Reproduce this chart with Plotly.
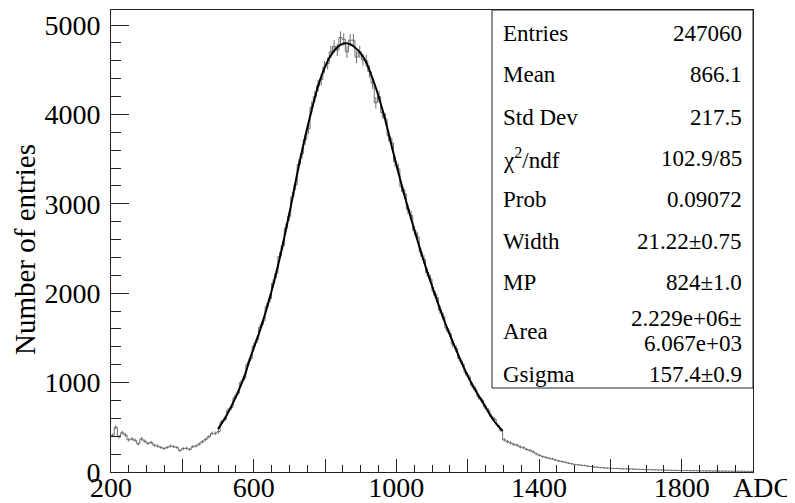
import numpy as np
import plotly.graph_objects as go

# ---------------- data ----------------
bin_low = 200.0
bin_width = 9.0

counts_low = [410, 500, 395, 440, 414, 360, 370, 355, 315, 370,
              345, 320, 330, 300, 290, 275, 262, 275, 290, 283,
              275, 240, 262, 265, 253, 283, 291, 313, 339, 365,
              395, 432, 432, 451]
counts_peak = [560, 590, 690, 720, 830, 880, 1000, 1050, 1200, 1270,
               1410, 1480, 1620, 1690, 1850, 1940, 2110, 2220, 2410, 2530,
               2730, 2860, 3080, 3210, 3440, 3560, 3720, 3840, 4080, 4200,
               4320, 4390, 4530, 4570, 4700, 4760, 4720, 4860, 4840, 4700,
               4830, 4830, 4640, 4700, 4610, 4600, 4480, 4350, 4130, 4200,
               4020, 3950, 3760, 3680, 3470, 3390, 3190, 3110, 2940, 2870,
               2700, 2630, 2460, 2380, 2230, 2160, 2020, 1950, 1810, 1740,
               1610, 1550, 1430, 1380, 1270, 1210, 1110, 1060, 970, 925,
               840, 805, 730, 690, 620, 590, 520, 470, 360]
counts_tail = [340, 325, 308, 300, 280, 272, 252, 242, 226, 203,
               186, 172, 163, 153, 146, 133, 124, 117, 109, 99,
               92, 84, 82, 75, 73, 66, 61, 57, 53, 49,
               47, 44, 43, 40, 40, 37, 36, 35, 33, 34,
               31, 30, 29, 27, 27, 25, 25, 22, 23, 21,
               20, 19, 19, 17, 18, 16, 16, 15, 14, 15,
               13, 13, 12, 12, 11, 12, 10, 10, 10, 9,
               9, 9, 8, 8, 8, 7, 7]
counts = np.array(counts_low + counts_peak + counts_tail, dtype=float)

fit_x = [500, 525, 550, 575, 590, 618, 646, 674, 702, 730, 758, 786, 814, 842,
         861, 879, 907, 935, 964, 992, 1020, 1048, 1076, 1104, 1132, 1160,
         1188, 1216, 1244, 1272, 1298]
fit_y = [480, 640, 840, 1080, 1272, 1588, 1961, 2408, 2931, 3490, 3974, 4385,
         4645, 4776, 4795, 4765, 4645, 4385, 4012, 3565, 3135, 2744, 2371,
         2036, 1719, 1440, 1178, 954, 768, 582, 460]

x_label_vals = [200, 600, 1000, 1400, 1800]
x_label_text = ["200", "600", "1000", "1400", "1800"]
x_major_vals = [200, 400, 600, 800, 1000, 1200, 1400, 1600, 1800, 2000]
y_tick_vals = [0, 1000, 2000, 3000, 4000, 5000]
y_tick_text = ["0", "1000", "2000", "3000", "4000", "5000"]

stat_labels = ["Entries", "Mean", "Std Dev", "χ<sup>2</sup>/ndf", "Prob",
               "Width", "MP", "Area", "Gsigma"]
stat_values = ["247060", "866.1", "217.5", "102.9/85", "0.09072",
               "21.22±0.75", "824±1.0", "2.229e+06±|6.067e+03", "157.4±0.9"]

x_title = "ADC"
y_title = "Number of entries"

# ---------------- figure ----------------
n = len(counts)
edges = bin_low + bin_width * np.arange(n + 1)
centers = edges[:-1] + bin_width / 2
XR = [200, 2000]

FONT = "Liberation Serif, Times New Roman, serif"
OFF = 8                      # page body margin of the browser
W, H = 795 - OFF, 503 - OFF
PL, PR, PT, PB = 111, 753, 10, 472   # plot frame in window pixels
L, R, T, B = PL - OFF, W - (PR - OFF), PT - OFF, H - (PB - OFF)
PW, PH = PR - PL, PB - PT
AX = "#222"
HC = "#707070"


def px(xp):
    return (xp - PL) / PW


def py(yp):
    return (PB - yp) / PH


fig = go.Figure()

# histogram step line
fig.add_trace(go.Scatter(
    x=np.append(edges[:-1], edges[-1]),
    y=np.append(counts, counts[-1]),
    mode="lines", line=dict(color=HC, width=1, shape="hv"),
    hoverinfo="skip", showlegend=False))
# error bars
fig.add_trace(go.Scatter(
    x=centers, y=counts, mode="markers",
    marker=dict(size=1, color=HC),
    error_y=dict(type="data", array=np.sqrt(counts), color=HC,
                 thickness=1, width=0),
    hoverinfo="skip", showlegend=False))
# fit curve (on the overlay x axis that carries the unlabelled major ticks)
fig.add_trace(go.Scatter(
    x=fit_x, y=fit_y, mode="lines", xaxis="x2",
    line=dict(color="black", width=2, shape="spline", smoothing=1.0),
    hoverinfo="skip", showlegend=False))

fig.update_layout(
    width=W, height=H,
    margin=dict(l=L, r=R, t=T, b=B, pad=0, autoexpand=False),
    paper_bgcolor="white", plot_bgcolor="white",
    font=dict(family=FONT, size=28, color="black"),
    showlegend=False,
    xaxis=dict(
        range=XR, showgrid=False, zeroline=False, automargin=False,
        showline=True, linecolor=AX, linewidth=1, mirror=True,
        ticks="inside", ticklen=13, tickwidth=1, tickcolor=AX,
        tickmode="array", tickvals=x_label_vals, ticktext=x_label_text,
        minor=dict(ticks="inside", ticklen=7, tickwidth=1, tickcolor=AX,
                   tickmode="linear", tick0=200, dtick=50, showgrid=False),
        tickfont=dict(family=FONT, size=28),
        ticklabelstandoff=-10,
    ),
    xaxis2=dict(
        range=XR, overlaying="x", side="bottom", anchor="y",
        showgrid=False, zeroline=False, automargin=False, showline=False,
        ticks="inside", ticklen=13, tickwidth=1, tickcolor=AX,
        tickmode="array", tickvals=x_major_vals, showticklabels=False,
    ),
    yaxis=dict(
        range=[0, 5168], showgrid=False, zeroline=False, automargin=False,
        showline=True, linecolor=AX, linewidth=1, mirror=True,
        ticks="inside", ticklen=18, tickwidth=1, tickcolor=AX,
        tickmode="array", tickvals=y_tick_vals, ticktext=y_tick_text,
        minor=dict(ticks="inside", ticklen=10, tickwidth=1, tickcolor=AX,
                   tickmode="linear", tick0=0, dtick=200, showgrid=False),
        tickfont=dict(family=FONT, size=28),
        ticklabelstandoff=4,
    ),
)

# stats box
fig.add_shape(type="rect", xref="paper", yref="paper",
              x0=px(492), x1=1, y0=py(388), y1=1,
              line=dict(color=AX, width=1), fillcolor="white", layer="above")

row_y = [33, 75, 117, 158, 199, 241, 283, 331, 374]
for lab, val, yy in zip(stat_labels, stat_values, row_y):
    fig.add_annotation(xref="paper", yref="paper", x=px(501), y=py(yy),
                       text=lab, showarrow=False, xanchor="left", yanchor="middle",
                       font=dict(family=FONT, size=23, color="black"))
    parts = val.split("|")
    offs = [0] if len(parts) == 1 else [-13, 12]
    for p, dy in zip(parts, offs):
        fig.add_annotation(xref="paper", yref="paper", x=px(744), y=py(yy + dy),
                           text=p, showarrow=False, xanchor="right", yanchor="middle",
                           font=dict(family=FONT, size=23, color="black"))

# axis titles
fig.add_annotation(xref="paper", yref="paper", x=px(763), y=py(488),
                   text=x_title, showarrow=False, xanchor="center", yanchor="middle",
                   font=dict(family=FONT, size=28, color="black"))
fig.add_annotation(xref="paper", yref="paper", x=px(25), y=py(250),
                   text=y_title, showarrow=False, textangle=-90,
                   xanchor="center", yanchor="middle",
                   font=dict(family=FONT, size=29, color="black"))

fig.write_html("out.html")
